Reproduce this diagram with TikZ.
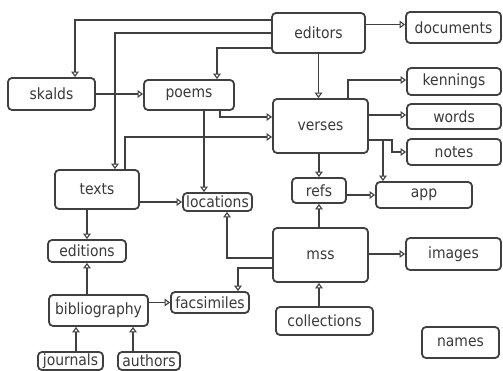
\documentclass[tikz,border=0pt]{standalone}
\usepackage{fontspec}
\setmainfont{DejaVu Sans Condensed}
\usetikzlibrary{arrows.meta}
\definecolor{ink}{HTML}{404040}
\begin{document}
\begin{tikzpicture}[x=1pt,y=-1pt,
  box/.style={draw=ink, line width=1.8pt, rounded corners=4pt, fill=white, inner sep=0pt,
    font=\fontsize{15.5}{18}\selectfont, text=ink!90!black},
  arr/.style={draw=ink, line width=1.5pt, -{Triangle[open,length=5.5pt,width=7.5pt,line width=1.1pt,fill=white]}}]
\useasboundingbox[fill=white] (0,0) rectangle (503,371);
% nodes
\node[box, minimum width=93pt, minimum height=40pt] (editors) at (318.5,33) {editors};
\node[box, minimum width=95pt, minimum height=31pt] (documents) at (453.5,27.5) {documents};
\node[box, minimum width=87pt, minimum height=32pt] (skalds) at (51.5,94) {skalds};
\node[box, minimum width=90pt, minimum height=30pt] (poems) at (189,95) {poems};
\node[box, minimum width=95pt, minimum height=54pt] (verses) at (320.5,126) {verses};
\node[box, minimum width=94pt, minimum height=27pt] (kennings) at (454,81.5) {kennings};
\node[box, minimum width=94pt, minimum height=25pt] (words) at (454,116.5) {words};
\node[box, minimum width=94pt, minimum height=26pt] (notes) at (454,152) {notes};
\node[box, minimum width=84pt, minimum height=39pt] (texts) at (97,189.5) {texts};
\node[box, minimum width=69pt, minimum height=18pt] (locations) at (217.5,202) {locations};
\node[box, minimum width=54pt, minimum height=25pt] (refs) at (319,190.5) {refs};
\node[box, minimum width=96pt, minimum height=26pt] (app) at (424,195) {app};
\node[box, minimum width=78pt, minimum height=22pt] (editions) at (87,251) {editions};
\node[box, minimum width=95pt, minimum height=54pt] (mss) at (320.5,255) {mss};
\node[box, minimum width=95pt, minimum height=32pt] (images) at (453.5,254) {images};
\node[box, minimum width=99pt, minimum height=31pt] (bibliography) at (98.5,310.5) {bibliography};
\node[box, minimum width=78pt, minimum height=21pt] (facsimiles) at (210,302.5) {facsimiles};
\node[box, minimum width=97pt, minimum height=28pt] (collections) at (324.5,321) {collections};
\node[box, minimum width=77pt, minimum height=31pt] (names) at (460.5,342.5) {names};
\node[box, minimum width=65pt, minimum height=18pt] (journals) at (70.5,361) {journals};
\node[box, minimum width=62pt, minimum height=18pt] (authors) at (149,361) {authors};
% guide coordinates
\coordinate (xa) at (75,0);
\coordinate (xb) at (115,0);
\coordinate (xc) at (217,0);
\coordinate (xd) at (220,0);
\coordinate (xe) at (125,0);
\coordinate (xf) at (204,0);
\coordinate (xg) at (87,0);
\coordinate (xh) at (76,0);
\coordinate (xi) at (133,0);
\coordinate (xk) at (227,0);
\coordinate (xl) at (238,0);
\coordinate (xm) at (383,0);
\coordinate (xn) at (348,0);
\coordinate (xo) at (392,0);
\coordinate (xp) at (319,0);
% connectors
\draw[arr] ([yshift=13pt]editors.west) -| (xa |- skalds.north);
\draw[arr] (editors.west) -| (xb |- texts.north);
\draw[arr] ([yshift=-15pt]editors.west) -| (xc |- poems.north);
\draw[arr] (editors.south) -- (editors.south |- verses.north);
\draw[arr] ([yshift=3pt]editors.east |- documents.west) -- ([yshift=3pt]documents.west);
\draw[arr] (skalds.east) -- (skalds.east -| poems.west);
\draw[arr] (xd |- poems.south) |- ([yshift=9pt]verses.west);
\draw[arr] (xe |- texts.north) |- ([yshift=-11pt]verses.west);
\draw[arr] (xf |- poems.south) -- (xf |- locations.north);
\draw[arr] (texts.east |- locations.west) -- (locations.west);
\draw[arr] (xg |- texts.south) -- (xg |- editions.north);
\draw[arr] (xg |- bibliography.north) -- (xg |- editions.south);
\draw[arr] (bibliography.east |- facsimiles.west) -- (facsimiles.west);
\draw[arr] (xh |- journals.north) -- (xh |- bibliography.south);
\draw[arr] (xi |- authors.north) -- (xi |- bibliography.south);
\draw[arr] ([yshift=-3pt]mss.west) -| (xk |- locations.south);
\draw[arr] ([yshift=-13pt]mss.west) -| (xl |- facsimiles.north);
\draw[arr] (refs.south |- mss.north) -- (refs.south);
\draw[arr] (refs.east |- app.west) -- (app.west);
\draw[arr] (refs.north |- verses.south) -- (refs.north);
\draw[arr] ([yshift=-14pt]verses.east) -| (xm |- app.north);
\draw[arr] (xn |- verses.north) |- ([yshift=1.5pt]kennings.west);
\draw[arr] ([yshift=1.5pt]verses.east |- words.west) -- ([yshift=1.5pt]words.west);
\draw[arr] ([yshift=-14pt]verses.east) -| (xo |- notes.west) -- (notes.west);
\draw[arr] (mss.east |- images.west) -- (images.west);
\draw[arr] (xp |- collections.north) -- (xp |- mss.south);
\end{tikzpicture}
\end{document}
